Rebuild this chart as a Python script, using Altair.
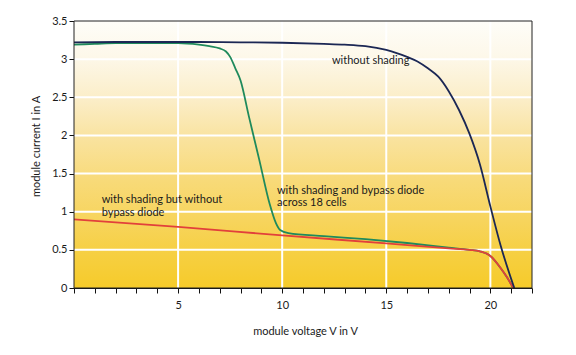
import altair as alt
import pandas as pd

# ---- data ----
v_noshade = [0, 2, 4, 6, 8, 10, 12, 13, 14, 15, 15.5, 16, 16.5, 17, 17.5, 18, 18.5, 19, 19.5, 20, 20.5, 21.15]
i_noshade = [3.22, 3.225, 3.225, 3.225, 3.22, 3.215, 3.2, 3.19, 3.17, 3.12, 3.08, 3.03, 2.97, 2.88, 2.77, 2.58, 2.33, 2.02, 1.62, 1.07, 0.55, 0.0]

v_bypass = [0, 1, 2, 3, 4, 5, 6, 6.5, 7, 7.3, 7.5, 7.75, 8.0, 8.4, 8.9, 9.4, 9.7, 9.9, 10.3, 12, 14, 16, 18, 19, 19.5, 20, 20.5, 20.8, 21.1]
i_bypass = [3.19, 3.2, 3.21, 3.21, 3.21, 3.21, 3.19, 3.17, 3.14, 3.1, 3.03, 2.88, 2.72, 2.25, 1.68, 1.1, 0.85, 0.76, 0.72, 0.68, 0.64, 0.59, 0.53, 0.5, 0.48, 0.42, 0.26, 0.14, 0.0]

v_nobypass = [0, 5, 10, 15, 18, 19, 19.5, 20, 20.5, 20.8, 21.1]
i_nobypass = [0.9, 0.8, 0.69, 0.585, 0.52, 0.5, 0.48, 0.42, 0.26, 0.14, 0.0]

x_ticks = list(range(0, 23))
x_grid = [5, 10, 15, 20]
y_ticks = [0, 0.5, 1, 1.5, 2, 2.5, 3, 3.5]
y_grid = [0.5, 1, 1.5, 2, 2.5, 3]

labels = ["without shading", "with shading and bypass diode\nacross 18 cells", "with shading but without\nbypass diode"]
label_v = [12.39, 9.75, 1.33]
label_i = [2.975, 1.275, 1.153]

FONT = "Lato"
W, H = 458, 267

rows = []
for s, vs, is_ in [("nobypass", v_nobypass, i_nobypass), ("bypass", v_bypass, i_bypass), ("noshade", v_noshade, i_noshade)]:
    for k, (a, b) in enumerate(zip(vs, is_)):
        rows.append({"series": s, "v": a, "i": b, "order": k})
df = pd.DataFrame(rows)

xs = alt.Scale(domain=[0, 22], nice=False, zero=False)
ys = alt.Scale(domain=[0, 3.5], nice=False)

xaxis = alt.Axis(values=x_ticks, labelExpr="datum.value % 5 === 0 && datum.value > 0 ? datum.label : ''",
                 labelOverlap=False, title="module voltage V in V", titleX=231, titleY=43,
                 titleBaseline="middle", titleAlign="center", labelPadding=6)
yaxis = alt.Axis(values=y_ticks, format="~g", title="module current I in A", labelOverlap=False,
                 titleX=-38, titleY=125, titleAngle=-90, titleBaseline="middle", titleAlign="center")

bg = alt.Chart(pd.DataFrame({"a": [0]})).mark_rect(
    fill=alt.Gradient(
        gradient="linear", x1=0, y1=0, x2=0, y2=1,
        stops=[
            alt.GradientStop(color="#fefdf8", offset=0.0),
            alt.GradientStop(color="#fdf8ea", offset=0.13),
            alt.GradientStop(color="#fbedc6", offset=0.3),
            alt.GradientStop(color="#f9e29c", offset=0.45),
            alt.GradientStop(color="#f8da78", offset=0.6),
            alt.GradientStop(color="#f7d45c", offset=0.75),
            alt.GradientStop(color="#f6cf40", offset=0.88),
            alt.GradientStop(color="#f6cb2a", offset=1.0),
        ],
    )
).encode(x=alt.value(0), x2=alt.value(W), y=alt.value(0), y2=alt.value(H))

hgrid = alt.Chart(pd.DataFrame({"g": y_grid})).mark_rule(color="white", strokeWidth=2).encode(
    y=alt.Y("g:Q", scale=ys, axis=yaxis)
)
vgrid = alt.Chart(pd.DataFrame({"g": x_grid})).mark_rule(color="white", strokeWidth=2).encode(
    x=alt.X("g:Q", scale=xs, axis=xaxis)
)

frame = alt.Chart(pd.DataFrame({"a": [0]})).mark_rect(
    fill=None, stroke="#222222", strokeWidth=1
).encode(x=alt.value(0), x2=alt.value(W), y=alt.value(0), y2=alt.value(H))

lines = alt.Chart(df).mark_line(strokeWidth=1.8, interpolate="monotone").encode(
    x=alt.X("v:Q", scale=xs, axis=xaxis),
    y=alt.Y("i:Q", scale=ys, axis=yaxis),
    color=alt.Color("series:N", scale=alt.Scale(domain=["bypass", "nobypass", "noshade"],
                                                range=["#1f8a5c", "#e2403b", "#1b2754"]), legend=None),
    detail="series:N",
    order="order:Q",
)

# draw in order green, red, blue
green = lines.transform_filter("datum.series === 'bypass'")
red = lines.transform_filter("datum.series === 'nobypass'")
blue = lines.transform_filter("datum.series === 'noshade'")

text = alt.Chart(pd.DataFrame({"t": labels, "v": label_v, "i": label_i})).mark_text(
    align="left", baseline="middle", font=FONT, fontSize=11, lineBreak="\n", lineHeight=12.5, color="#1a1a1a"
).encode(x=alt.X("v:Q", scale=xs, axis=xaxis), y=alt.Y("i:Q", scale=ys, axis=yaxis), text="t:N")

chart = alt.layer(bg, hgrid, vgrid, green, red, blue, text, frame).properties(
    width=W, height=H,
    autosize=alt.AutoSizeParams(type="none"),
    padding={"left": 66, "top": 13, "right": 20, "bottom": 60},
    background="white",
).configure_view(
    stroke=None
).configure_axis(
    grid=False, domainColor="#111111", domainWidth=1, tickColor="#111111", tickSize=5,
    labelFont=FONT, labelFontSize=11, labelColor="#1a1a1a",
    titleFont=FONT, titleFontSize=11, titleFontWeight="normal", titleColor="#1a1a1a",
)

chart.save("out.html", embed_options={"renderer": "svg", "actions": False})
